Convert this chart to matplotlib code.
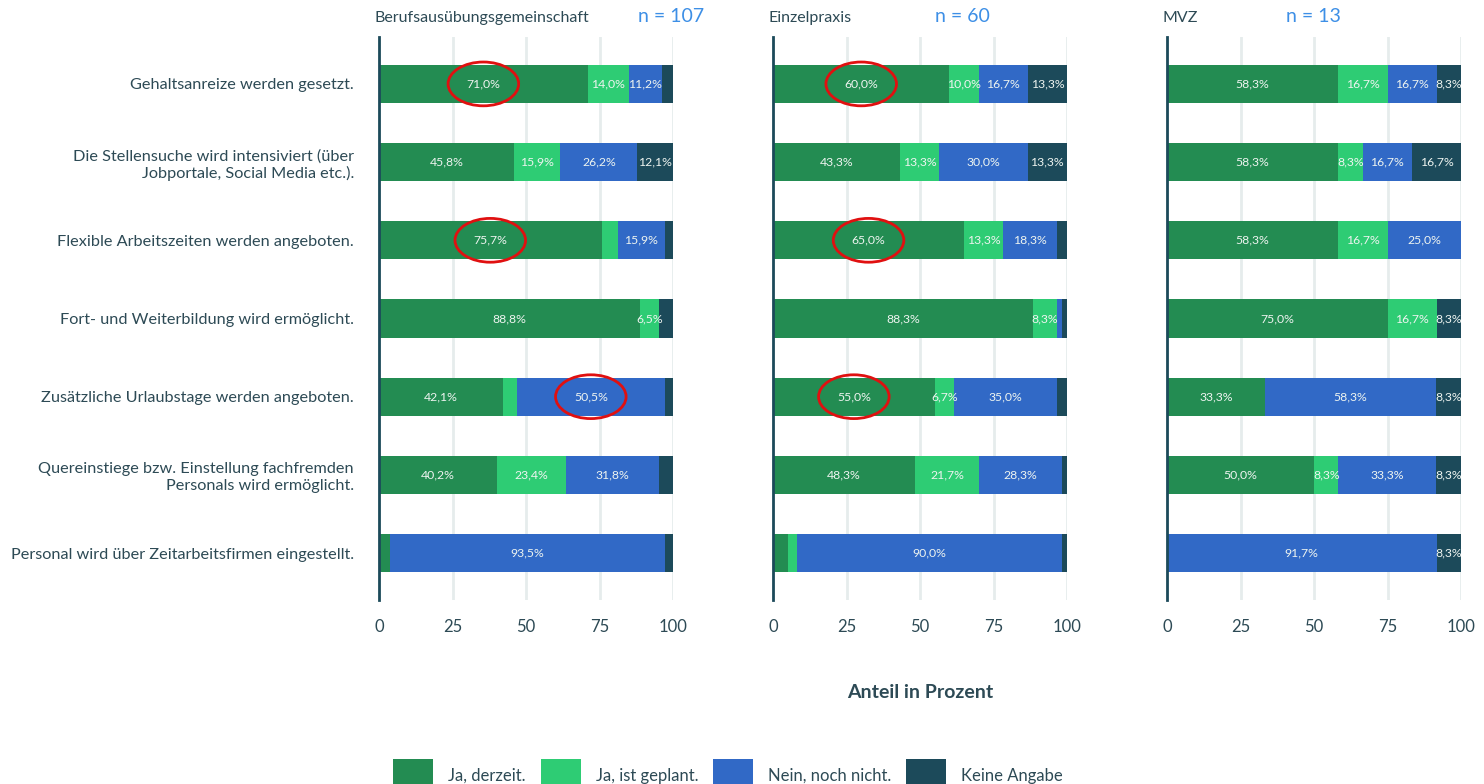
import matplotlib.pyplot as plt
from matplotlib.patches import Ellipse, Patch

plt.rcParams['font.family'] = ['Lato', 'DejaVu Sans']

# survey items (top to bottom)
items = [
    'Gehaltsanreize werden gesetzt.',
    'Die Stellensuche wird intensiviert (über\nJobportale, Social Media etc.).',
    'Flexible Arbeitszeiten werden angeboten.',
    'Fort- und Weiterbildung wird ermöglicht.',
    'Zusätzliche Urlaubstage werden angeboten.',
    'Quereinstiege bzw. Einstellung fachfremden\nPersonals wird ermöglicht.',
    'Personal wird über Zeitarbeitsfirmen eingestellt.',
]
answers = ['Ja, derzeit.', 'Ja, ist geplant.', 'Nein, noch nicht.', 'Keine Angabe']
colors = ['#238c52', '#2ecc74', '#3169c6', '#1c4a5a']

groups = ['Berufsausübungsgemeinschaft', 'Einzelpraxis', 'MVZ']
group_n = [107, 60, 13]

# shares in percent per group: [ja_derzeit, ja_geplant, nein, keine_angabe]
bag_ja = [71.0, 45.8, 75.7, 88.8, 42.1, 40.2, 3.7]
bag_geplant = [14.0, 15.9, 5.6, 6.5, 4.7, 23.4, 0.0]
bag_nein = [11.2, 26.2, 15.9, 0.0, 50.5, 31.8, 93.5]
bag_keine = [3.8, 12.1, 2.8, 4.7, 2.7, 4.6, 2.8]

ep_ja = [60.0, 43.3, 65.0, 88.3, 55.0, 48.3, 5.0]
ep_geplant = [10.0, 13.3, 13.3, 8.3, 6.7, 21.7, 3.3]
ep_nein = [16.7, 30.0, 18.3, 1.7, 35.0, 28.3, 90.0]
ep_keine = [13.3, 13.3, 3.4, 1.7, 3.3, 1.7, 1.7]

mvz_ja = [58.3, 58.3, 58.3, 75.0, 33.3, 50.0, 0.0]
mvz_geplant = [16.7, 8.3, 16.7, 16.7, 0.0, 8.3, 0.0]
mvz_nein = [16.7, 16.7, 25.0, 0.0, 58.3, 33.3, 91.7]
mvz_keine = [8.3, 16.7, 0.0, 8.3, 8.3, 8.3, 8.3]

data = [
    [bag_ja, bag_geplant, bag_nein, bag_keine],
    [ep_ja, ep_geplant, ep_nein, ep_keine],
    [mvz_ja, mvz_geplant, mvz_nein, mvz_keine],
]

# highlighted labels: (group, item, answer)
highlights = [(0, 0, 0), (0, 2, 0), (0, 4, 2), (1, 0, 0), (1, 2, 0), (1, 4, 0)]

text_col = '#2d4a55'
fig = plt.figure(figsize=(14.84, 7.84), dpi=100)

W, H = 1484, 784
lefts = [379, 773, 1167]
title_x = [375, 769, 1163]
n_x = [638, 935, 1286]

for g, left in enumerate(lefts):
    ax = fig.add_axes([left / W, 1 - 600 / H, 294 / W, 563 / H])
    y = list(range(len(items)))
    start = [0.0] * len(items)
    for k, vals in enumerate(data[g]):
        ax.barh(y, vals, left=start, height=0.49, color=colors[k], zorder=3)
        for i, v in enumerate(vals):
            if v >= 6:
                ax.text(start[i] + v / 2, i, f'{v:.1f}'.replace('.', ',') + '%',
                        ha='center', va='center', fontsize=8.8, color='#eef4f0', zorder=4)
        start = [s + v for s, v in zip(start, vals)]

    for (hg, hi, hk) in highlights:
        if hg != g:
            continue
        x0 = sum(data[g][k][hi] for k in range(hk))
        cx = x0 + data[g][hk][hi] / 2
        ax.add_patch(Ellipse((cx, hi), 24, 0.56, fill=False, edgecolor='#e01010',
                             linewidth=2, zorder=5))

    ax.set_xlim(0, 100)
    ax.set_ylim(6.6, -0.6)
    ax.set_xticks([0, 25, 50, 75, 100])
    ax.tick_params(axis='x', length=0, pad=14, labelsize=12, labelcolor=text_col)
    ax.tick_params(axis='y', length=0)
    for x in [25, 50, 75, 100]:
        ax.axvline(x, color='#e6ecec', linewidth=2, zorder=1)
    for s in ['top', 'right', 'bottom']:
        ax.spines[s].set_visible(False)
    ax.spines['left'].set_color('#1c4a5a')
    ax.spines['left'].set_linewidth(2)
    ax.spines['left'].set_zorder(6)
    if g == 0:
        ax.set_yticks(range(len(items)))
        ax.set_yticklabels(items, fontsize=11.7, color=text_col, ha='right')
        ax.tick_params(axis='y', pad=18)
    else:
        ax.set_yticks([])

    fig.text(title_x[g] / W, 1 - 18 / H, groups[g], fontsize=11.5,
             color=text_col, va='center', ha='left')
    fig.text(n_x[g] / W, 1 - 16 / H, f'n = {group_n[g]}', fontsize=14,
             color='#3d8fe6', va='center', ha='left')

fig.text(920 / W, 1 - 693 / H, 'Anteil in Prozent', fontsize=14, fontweight='bold',
         color=text_col, ha='center', va='center')

handles = [Patch(facecolor=c, edgecolor='none', label=a) for a, c in zip(answers, colors)]
fig.legend(handles=handles, loc='lower center', bbox_to_anchor=(728 / W, -0.03), ncol=4,
           frameon=False, fontsize=12, labelcolor=text_col, handlelength=2.4,
           handleheight=2.7, handletextpad=0.9, columnspacing=0.9)

fig.savefig('out.png', dpi=100)
